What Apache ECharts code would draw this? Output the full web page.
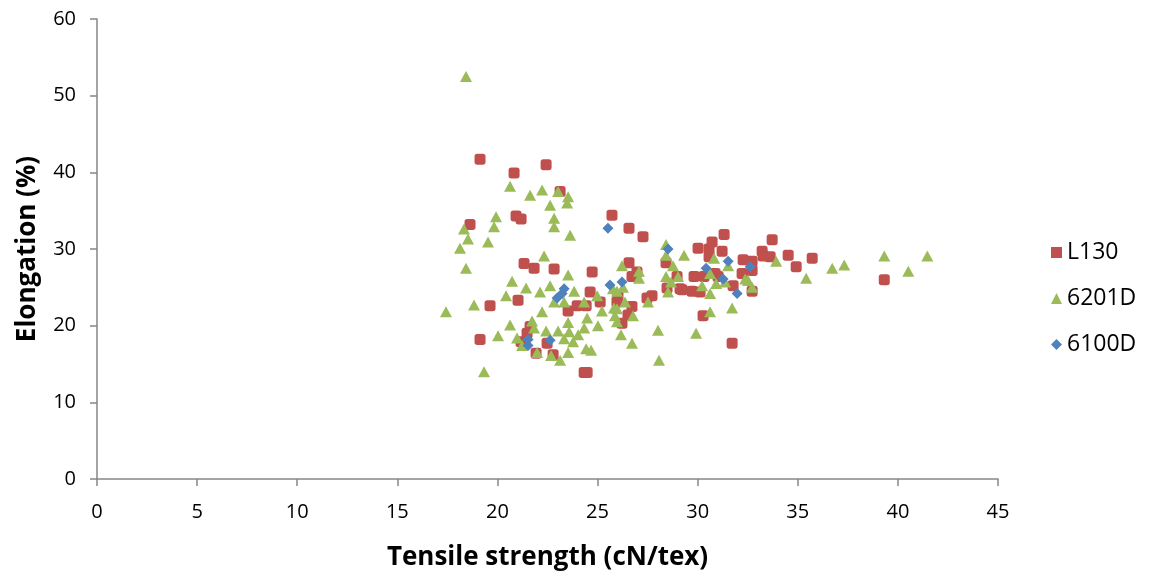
<!DOCTYPE html>
<html><head><meta charset="utf-8">
<script src="https://cdn.jsdelivr.net/npm/echarts@6/dist/echarts.min.js"></script>
<style>html,body{margin:0;padding:0;background:#fff}#c{width:1155px;height:576px}</style>
</head><body><div id="c"></div>
<script>
const xTicks = [0,5,10,15,20,25,30,35,40,45];
const yTicks = [0,10,20,30,40,50,60];
const seriesNames = ['L130','6201D','6100D'];
const L130 = [[19.13,41.7],[18.63,33.2],[19.13,18.2],[19.63,22.6],[20.83,39.9],[20.93,34.3],[21.18,33.9],[21.03,23.3],[21.33,28.1],[21.63,19.9],[21.48,19.0],[21.18,17.9],[21.83,27.5],[21.93,16.4],[22.43,41.0],[22.48,17.7],[22.83,27.4],[22.78,16.2],[23.13,37.5],[23.53,21.9],[23.98,22.6],[24.43,22.6],[24.33,13.9],[24.48,13.9],[24.63,24.4],[24.73,27.0],[25.13,23.1],[25.72,34.4],[25.97,23.1],[26.02,23.9],[26.22,20.3],[26.52,21.4],[26.57,28.2],[26.57,32.7],[26.72,22.5],[26.97,27.0],[26.72,26.4],[27.27,31.6],[27.47,23.6],[27.72,23.9],[28.42,28.2],[28.47,24.9],[28.97,26.4],[29.12,24.8],[29.22,24.7],[29.72,24.5],[29.82,26.4],[30.02,30.1],[30.12,24.4],[30.27,21.3],[30.32,26.4],[30.57,30.0],[30.57,29.0],[30.72,30.9],[30.87,26.8],[31.02,26.4],[31.22,29.7],[31.32,31.9],[31.72,17.7],[31.77,25.2],[32.22,26.8],[32.27,28.6],[32.72,28.4],[32.72,27.2],[32.72,24.5],[33.22,29.7],[33.27,29.1],[33.62,29.0],[33.72,31.2],[34.52,29.2],[34.92,27.7],[35.72,28.8],[39.32,26.0]];
const D6201 = [[17.43,21.8],[18.13,30.1],[18.33,32.6],[18.43,27.5],[18.43,52.5],[18.53,31.3],[18.83,22.7],[19.33,14.0],[19.53,30.9],[19.83,32.9],[19.93,34.2],[20.03,18.7],[20.43,23.9],[20.63,38.2],[20.63,20.1],[20.73,25.8],[20.98,18.4],[21.23,17.4],[21.43,24.9],[21.63,37.0],[21.73,20.6],[21.83,19.7],[21.98,16.5],[22.13,24.4],[22.23,37.7],[22.23,21.8],[22.33,29.1],[22.43,19.3],[22.63,35.7],[22.63,25.2],[22.68,16.1],[22.83,34.0],[22.83,32.9],[22.83,23.1],[23.03,37.5],[23.03,19.3],[23.13,15.5],[23.33,23.1],[23.33,18.3],[23.48,36.0],[23.53,36.8],[23.53,26.6],[23.53,20.4],[23.53,16.5],[23.58,19.2],[23.63,31.8],[23.78,17.9],[23.83,24.5],[24.03,18.8],[24.33,23.1],[24.33,19.7],[24.43,17.0],[24.48,21.0],[24.68,16.8],[24.98,23.9],[25.02,20.0],[25.22,21.9],[25.77,24.8],[25.82,22.3],[25.97,24.5],[25.97,22.2],[25.97,20.5],[25.87,21.3],[26.17,18.8],[26.22,27.8],[26.27,25.0],[26.37,23.1],[26.72,17.7],[26.77,21.3],[27.07,27.1],[27.07,26.2],[27.52,23.1],[28.02,19.4],[28.07,15.5],[28.42,30.6],[28.42,29.2],[28.42,26.4],[28.52,24.4],[28.67,25.7],[28.77,27.8],[29.02,26.4],[29.32,29.2],[29.92,19.0],[30.22,25.2],[30.62,26.8],[30.62,24.2],[30.62,21.8],[30.82,28.8],[30.92,25.5],[31.37,25.7],[31.52,27.8],[31.72,22.3],[32.37,26.1],[32.52,25.9],[32.72,25.0],[33.92,28.4],[35.42,26.2],[36.72,27.5],[37.32,27.9],[39.32,29.1],[40.52,27.1],[41.47,29.1]];
const D6100 = [[21.53,18.2],[21.53,17.4],[22.63,18.1],[22.98,23.6],[23.23,24.2],[23.33,24.8],[25.52,32.7],[25.62,25.3],[26.22,25.7],[28.52,30.0],[30.42,27.5],[31.27,26.1],[31.52,28.4],[31.97,24.2],[32.62,27.7]];

const font = "'Open Sans', 'Liberation Sans', sans-serif";
const chart = echarts.init(document.getElementById('c'), null, {renderer:'canvas'});
const axisCommon = {
  axisLine:{show:true, lineStyle:{color:'#868686', width:1.5}},
  axisTick:{show:true, inside:false, length:7, lineStyle:{color:'#868686', width:1.5}},
  splitLine:{show:false},
  axisLabel:{color:'#000', fontSize:20, fontFamily:font, margin:21},
  nameTextStyle:{color:'#000', fontSize:26, fontWeight:'bold', fontFamily:font}
};
chart.setOption({
  animation:false,
  backgroundColor:'#fff',
  grid:{left:97, right:157, top:19, bottom:95},
  xAxis:Object.assign({}, axisCommon, {type:'value', min:xTicks[0], max:xTicks[xTicks.length-1], interval:5,
    name:'Tensile strength (cN/tex)', nameLocation:'middle', nameGap:66,
    axisLabel:Object.assign({}, axisCommon.axisLabel, {margin:23})}),
  yAxis:Object.assign({}, axisCommon, {type:'value', min:yTicks[0], max:yTicks[yTicks.length-1], interval:10,
    name:'Elongation (%)', nameLocation:'middle', nameGap:56, nameRotate:90}),
  legend:{orient:'vertical', left:1046, top:236, itemGap:23, itemWidth:11, itemHeight:11,
    textStyle:{fontSize:23, color:'#000', fontFamily:font},
    data:[{name:seriesNames[0], icon:'rect'},{name:seriesNames[1], icon:'triangle'},{name:seriesNames[2], icon:'diamond'}]},
  series:[
    {name:seriesNames[0], type:'scatter', data:L130, symbol:'roundRect', symbolSize:11, itemStyle:{color:'#C0504D', opacity:1}},
    {name:seriesNames[1], type:'scatter', data:D6201, symbol:'triangle', symbolSize:[12,11], itemStyle:{color:'#9BBB59', opacity:1}},
    {name:seriesNames[2], type:'scatter', data:D6100, symbol:'diamond', symbolSize:11, itemStyle:{color:'#4F81BD', opacity:1}}
  ]
});
</script></body></html>
